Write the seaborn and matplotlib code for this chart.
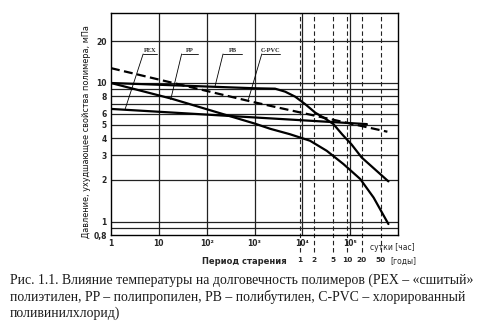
import numpy as np
import pandas as pd
import matplotlib
matplotlib.use("Agg")
import matplotlib.pyplot as plt
from matplotlib.ticker import NullLocator
import seaborn as sns

# ---- data ----
pex_hours = [1, 2.24e5]
pex_mpa = [6.5, 5.05]
pp_hours = [1, 18.6, 1020, 2140, 5500, 14500, 32400, 72400, 162000, 309000, 630000]
pp_mpa = [10, 7.7, 5.09, 4.67, 4.27, 3.83, 3.24, 2.6, 2.03, 1.49, 0.96]
pb_hours = [1, 1020, 2690, 4365, 7080, 11500, 18600, 30200, 44700, 67600, 107000, 174000, 630000]
pb_mpa = [10, 9.16, 9.1, 8.66, 7.97, 7.03, 6.11, 5.53, 5.05, 4.27, 3.6, 2.9, 1.95]
cpvc_hours = [1, 1000, 6.0e5]
cpvc_mpa = [12.8, 7.25, 4.45]

hour_ticks = [1, 10, 100, 1000, 1e4, 1e5]
hour_labels = ["1", "10", "10²", "10³", "10⁴", "10⁵"]
years = [1, 2, 5, 10, 20, 50]
year_labels = ["1", "2", "5", "10", "20", "50"]
pressure_ticks = [0.8, 1, 2, 3, 4, 5, 6, 8, 10, 20]
pressure_labels = ["0,8", "1", "2", "3", "4", "5", "6", "8", "10", "20"]
grid_pressures = [0.9, 1, 2, 3, 4, 5, 6, 7, 8, 9, 10, 20]

frames = []
for name, h, p in [("PEX", pex_hours, pex_mpa), ("PP", pp_hours, pp_mpa),
                   ("PB", pb_hours, pb_mpa), ("C-PVC", cpvc_hours, cpvc_mpa)]:
    frames.append(pd.DataFrame({"curve": name, "hours": h, "mpa": p}))
df = pd.concat(frames, ignore_index=True)

sns.set_style("white")
plt.rcParams["font.family"] = ["DejaVu Sans"]

fig = plt.figure(figsize=(4.8, 3.21), dpi=100)
ax = fig.add_axes([111/480, 1-235/321, (398-111)/480, (235-13)/321])
ax.set_xscale("log")
ax.set_yscale("log")
ax.set_xlim(1, 1e6)
ax.set_ylim(0.8, 32)

# grid
for yv in grid_pressures:
    ax.axhline(yv, color="#222222", lw=0.9, zorder=1)
for xv in hour_ticks[1:]:
    ax.axvline(xv, color="#222222", lw=0.9, zorder=1)
for yr in years:
    ax.axvline(yr * 8760, ymin=-0.077, ymax=1, color="#222222", lw=0.8,
               ls=(0, (4, 2.5)), zorder=1, clip_on=False)

sns.lineplot(data=df, x="hours", y="mpa", hue="curve", style="curve",
             units="curve", estimator=None,
             palette={"PEX": "black", "PP": "black", "PB": "black", "C-PVC": "black"},
             dashes={"PEX": "", "PP": "", "PB": "", "C-PVC": (4, 2)},
             lw=1.6, legend=False, ax=ax, zorder=3)
for line in ax.get_lines()[-4:]:
    line.set_solid_capstyle("round")
    line.set_solid_joinstyle("round")

ax.xaxis.set_minor_locator(NullLocator())
ax.yaxis.set_minor_locator(NullLocator())
ax.set_xticks(hour_ticks)
ax.set_xticklabels(hour_labels, fontsize=5.5, fontweight="bold")
ax.set_yticks(pressure_ticks)
ax.set_yticklabels(pressure_labels, fontsize=5.5, fontweight="bold")
ax.tick_params(length=0, pad=3)
for s in ax.spines.values():
    s.set_color("black")
    s.set_linewidth(1.0)
ax.set_xlabel("")
ax.set_ylabel("Давление, ухудшающее свойства полимера, мПа", fontsize=5.9,
              color="#111111")
ax.yaxis.set_label_coords(-0.07, 0.465)

# curve labels with leader lines
labels = [("PEX", 4.7, 9.2, 1.96, 6.43),
          ("PP", 30, 66.5, 17.7, 7.6),
          ("PB", 220, 550, 150, 9.5),
          ("C-PVC", 1420, 3450, 745, 7.6)]
for txt, x0, x1, xe, ye in labels:
    xc = np.sqrt(x0 * x1)
    ax.text(xc, 16.4, txt, fontsize=4.6, fontweight="bold", family="Liberation Serif",
            ha="center", va="bottom", zorder=4)
    ax.plot([x0, x1], [16.2, 16.2], color="black", lw=0.6, zorder=4)
    ax.plot([x0, xe], [16.2, ye], color="black", lw=0.6, zorder=4)

# secondary axis labels
ax.text(7.6e5, -0.035, "сутки [час]", transform=ax.get_xaxis_transform(),
        fontsize=5.5, ha="center", va="top")
ax.text(4800, -0.1, "Период старения", transform=ax.get_xaxis_transform(),
        fontsize=6, fontweight="bold", ha="right", va="top")
for yr, lab in zip(years, year_labels):
    ax.text(yr * 8760, -0.1, lab, transform=ax.get_xaxis_transform(),
            fontsize=5.3, fontweight="bold", ha="center", va="top")
ax.text(6.9e5, -0.1, "[годы]", transform=ax.get_xaxis_transform(),
        fontsize=5.5, ha="left", va="top")

# caption
cap = ["Рис. 1.1. Влияние температуры на долговечность полимеров (PEX – «сшитый»",
       "полиэтилен, PP – полипропилен, PB – полибутилен, C-PVC – хлорированный",
       "поливинилхлорид)"]
for i, line in enumerate(cap):
    fig.text(10/480, 1 - (280 + 16.5*i)/321, line, fontsize=9.9,
             family="Liberation Serif", ha="left", va="center", color="#1a1a1a")

fig.savefig("out.png", dpi=100)
